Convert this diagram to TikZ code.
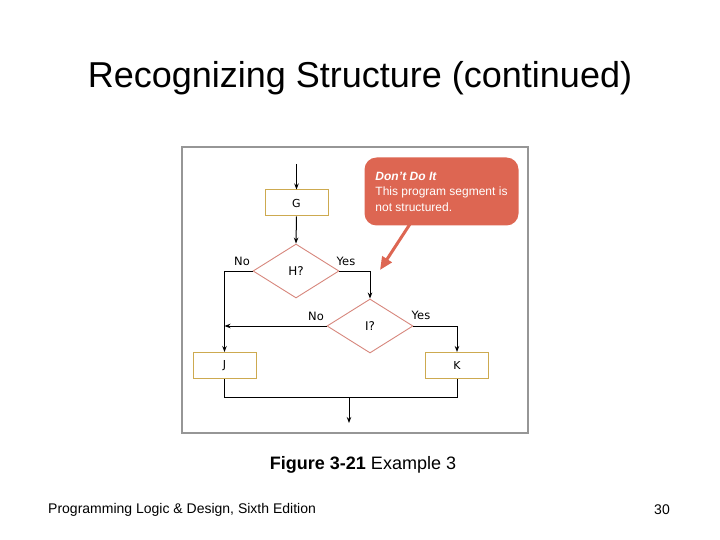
\documentclass[tikz,border=0pt]{standalone}
\usepackage{fontspec}
\setmainfont{Liberation Sans}
\newfontfamily\fcfont{DejaVu Sans}
\usetikzlibrary{shapes.geometric,arrows.meta}
\definecolor{boxline}{RGB}{205,170,80}
\definecolor{dialine}{RGB}{215,135,125}
\definecolor{calloutred}{RGB}{221,102,82}
\definecolor{framegray}{RGB}{150,150,150}
\tikzset{
  pbox/.style={draw=boxline, line width=1pt, fill=white, minimum width=63pt, minimum height=26pt, inner sep=0pt, font=\fcfont\fontsize{11}{13}\selectfont},
  pdia/.style={shape=diamond, draw=dialine, line width=0.9pt, fill=white, minimum width=86pt, minimum height=54pt, inner sep=0pt, aspect=1.6, font=\fcfont\fontsize{12}{14}\selectfont},
  flow/.style={line width=1pt, black},
  flowarr/.style={flow, -{Stealth[length=6pt,width=4.5pt]}},
  lbl/.style={font=\fcfont\fontsize{11.5}{13}\selectfont, inner sep=0pt},
  callout/.style={fill=calloutred, rounded corners=12pt, minimum width=154pt, minimum height=68pt, inner sep=0pt, text=white, align=left, font=\fontsize{12}{15.5}\selectfont},
  pointer/.style={calloutred, line width=3pt, -{Triangle[length=13pt,width=11pt]}}
}
\begin{document}
\begin{tikzpicture}[x=1pt,y=-1pt]
\useasboundingbox (0,0) rectangle (720,540);
% title
\node[font=\fontsize{36}{42}\selectfont, inner sep=0pt] (title) at (360,78) {Recognizing Structure (continued)};
% frame
\node[draw=framegray, line width=1.2pt, minimum width=346pt, minimum height=286pt, inner sep=0pt] (frame) at (355,290) {};
% flowchart
\coordinate (in) at (296.5,164);
\node[pbox] (G) at (296.5,203) {G};
\node[pdia] (H) at (296,271) {H?};
\node[pdia] (I) at (370,326) {I?};
\node[pbox] (J) at (224.5,365.5) {J};
\node[pbox] (K) at (457,365.5) {K};
\coordinate (jdown) at (224.5,397);
\coordinate (mid) at (349,397);
\coordinate (out) at (349,423);
\draw[flowarr] (in) -- (G.north);
\draw[flowarr] (G.south) -- (H.north);
\draw[flowarr] (H.west) -| (J.north);
\draw[flowarr] (H.east) -| (I.north);
\draw[flowarr] (I.west) -- (I.west -| J.north);
\draw[flowarr] (I.east) -| (K.north);
\draw[flow] (J.south) -- (jdown) -| (K.south);
\draw[flowarr] (mid) -- (out);
\node[lbl] (hno) at (242,261) {No};
\node[lbl] (hyes) at (346,261) {Yes};
\node[lbl] (ino) at (316,316) {No};
\node[lbl] (iyes) at (421,315) {Yes};
% callout
\node[callout] (C) at (441.5,191.5) {\textbf{\textit{Don't Do It}}\\This program segment is\\not structured.};
\coordinate (ptail) at (410,224);
\coordinate (ptip) at (380,270);
\draw[pointer] (ptail) -- (ptip);
% caption
\node[font=\fontsize{18}{21}\selectfont, inner sep=0pt] (cap) at (363,465) {\textbf{Figure 3-21} Example 3};
\node[font=\fontsize{14}{17}\selectfont, inner sep=0pt, anchor=west] (foot) at (48,510) {Programming Logic \& Design, Sixth Edition};
\node[font=\fontsize{14}{17}\selectfont, inner sep=0pt] (page) at (662,510) {30};
\end{tikzpicture}
\end{document}
